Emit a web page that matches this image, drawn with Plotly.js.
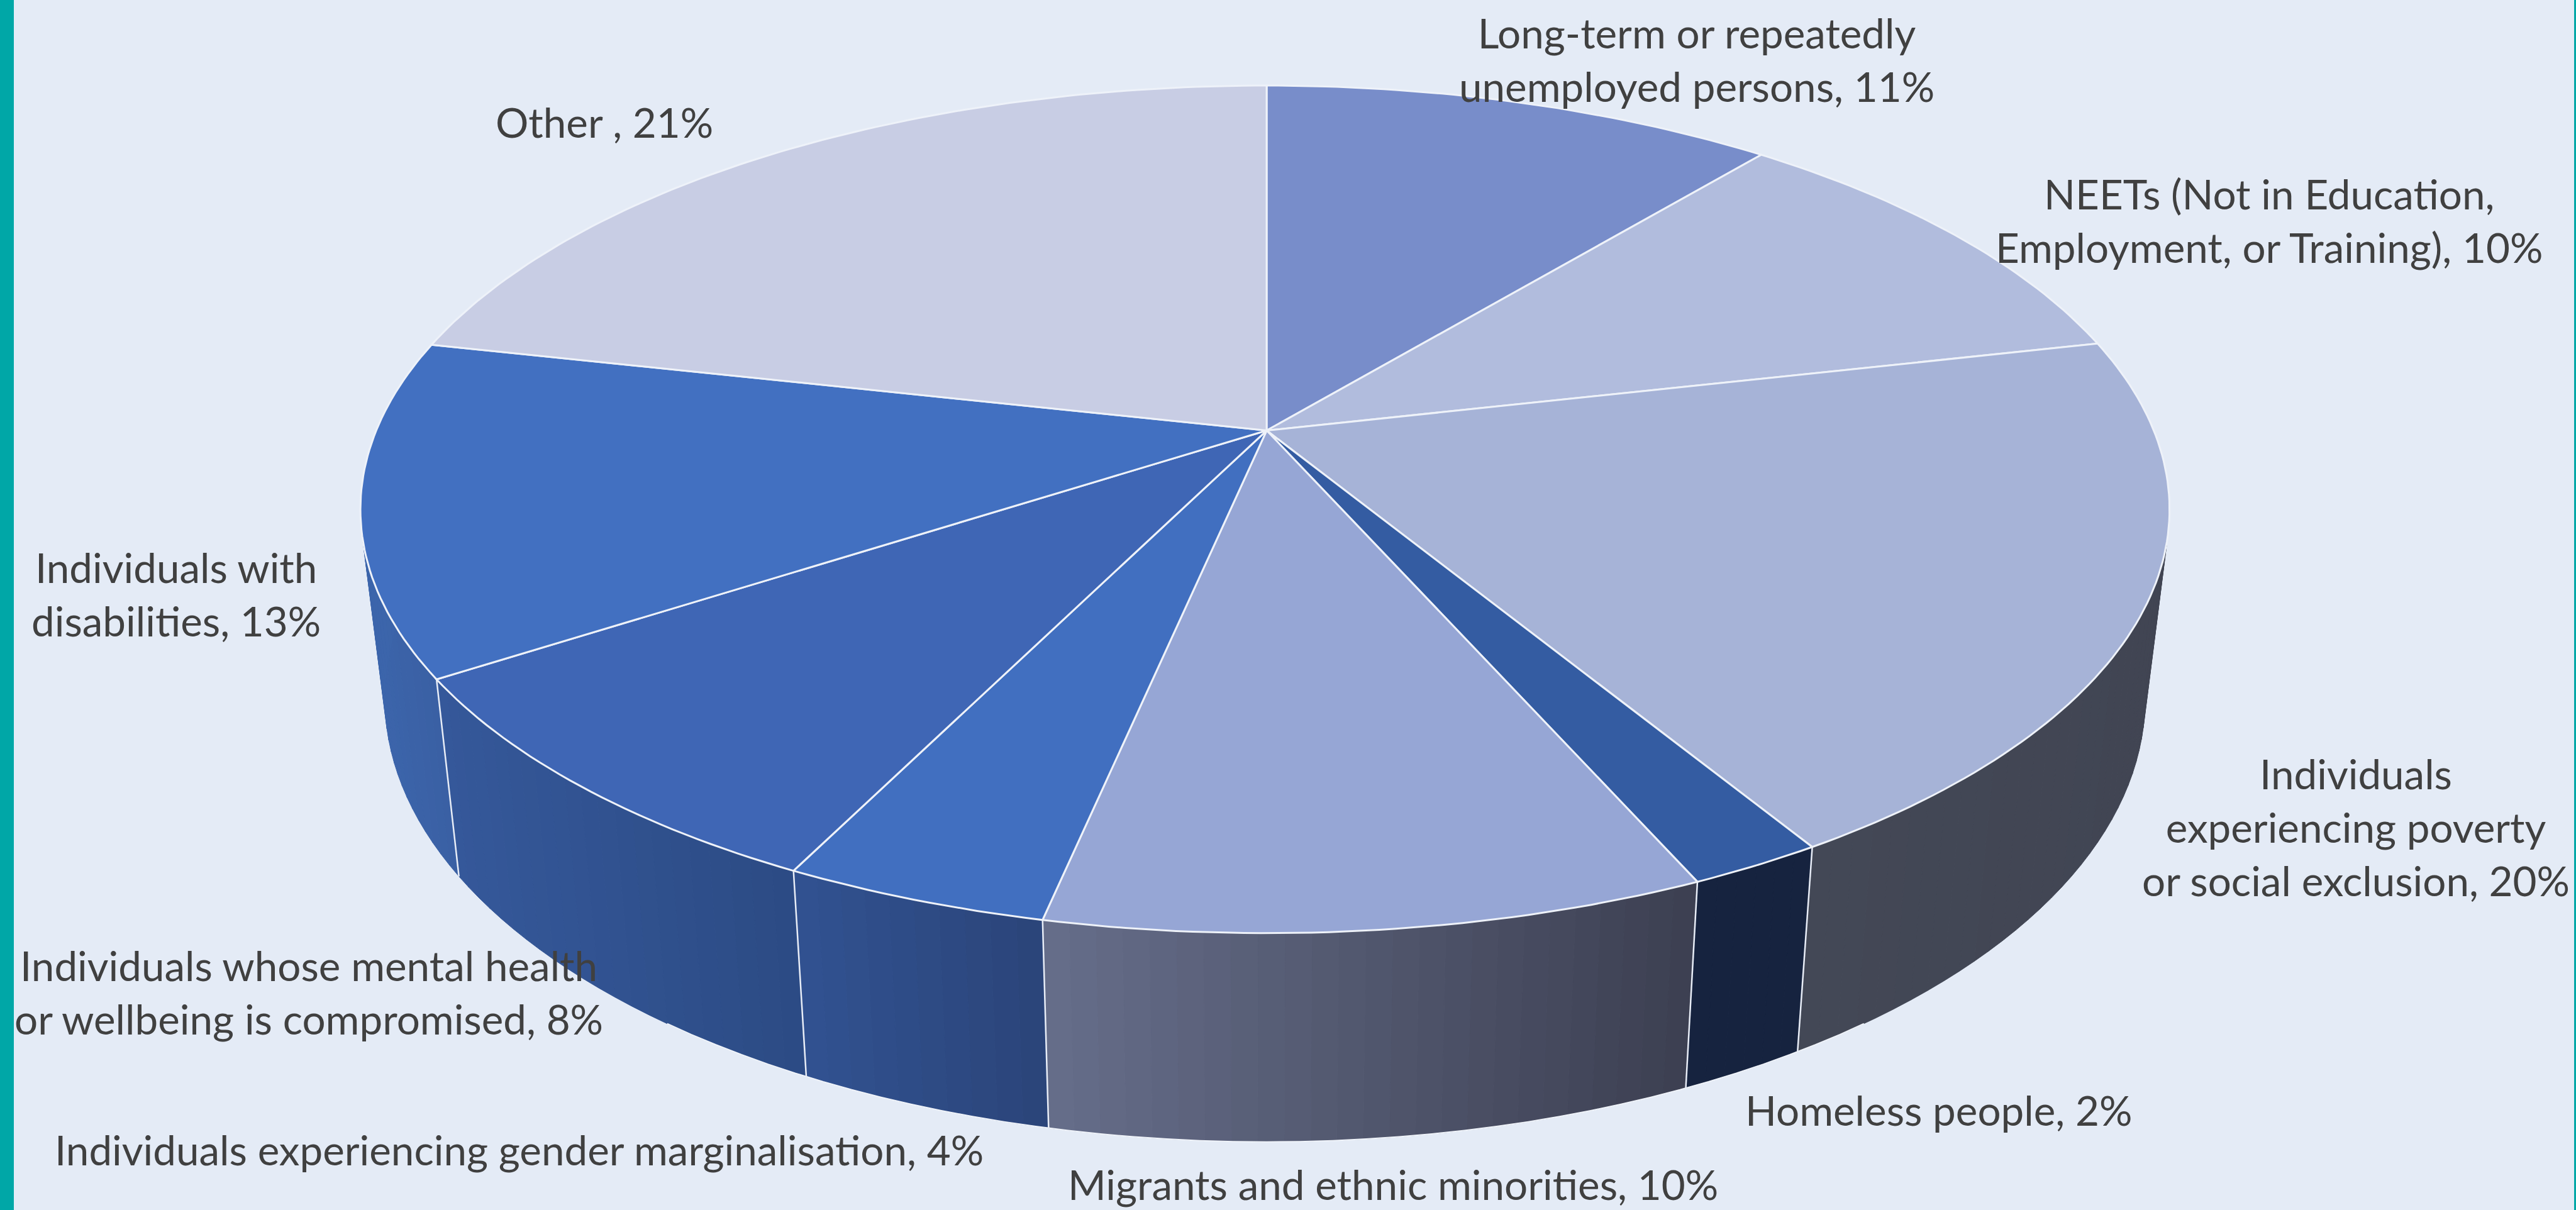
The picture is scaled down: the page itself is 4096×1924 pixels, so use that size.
<!DOCTYPE html>
<html><head><meta charset="utf-8">
<script src="https://cdn.plot.ly/plotly-3.0.1.min.js"></script>
<style>html,body{margin:0;padding:0;background:#e4ebf6;overflow:hidden}#c{width:4096px;height:1924px}</style>
</head><body><div id="c"></div>
<script>
// ---- data, clockwise from 12 o'clock ----
const categories = ["Long-term or repeatedly<br>unemployed persons","NEETs (Not in Education,<br>Employment, or Training)","Individuals<br>experiencing poverty<br>or social exclusion","Homeless people","Migrants and ethnic minorities","Individuals experiencing gender marginalisation","Individuals whose mental health<br>or wellbeing is compromised","Individuals with<br>disabilities","Other "];
const labelPercents = [11,10,20,2,10,4,8,13,21];
const sliceShares = [11.0,10.45,19.9,2.05,9.9,4.0,8.5,12.7,21.5];
// ---- styles ----
const topColors = ["#788dca","#b1bcdd","#a6b3d7","#345ca2","#96a6d5","#416fc0","#3f66b5","#4270c1","#c8cde4"];
const wallLeft  = ["#414654","#414654","#434856","#16233f","#666e8a","#315291","#35589a","#3c65ab","#c8cde4"];
const wallRight = ["#414654","#414654","#414553","#16233f","#3c3f51","#2b4479","#2c4b84","#3a60a4","#c8cde4"];
const labelAnchors = [[1033,36],[1381,134],[1434,503],[1180,675.5],[848,720.5],[316,699.5],[188,603.5],[107,361.5],[368,74]];
const BG="#e4ebf6", TEAL="#00a7a7", TEXT="#404040", FONT="Lato", FS=65.5;
const W=1568, H=736.4;
// ---- projection of the tilted disc ----
const cx=771, cy=262, aR=540, aL=542, b=249, k=0.186;
function rim(pct){const t=pct/100*2*Math.PI,x=Math.sin(t),y=Math.cos(t),w=1+k*y;return [cx+(x<0?aL:aR)*x/w,cy-b*y/w];}
function floorOf(p){return [cx+0.973*(p[0]-cx),p[1]+120+(p[1]-415)*0.046];}
function hex(c){return [1,3,5].map(i=>parseInt(c.substr(i,2),16));}
function mix(c1,c2,f){const A=hex(c1),B=hex(c2);return "rgb("+A.map((v,i)=>Math.round(v+(B[i]-v)*f)).join(",")+")";}
const traces=[];
const STEP=0.4;
let bounds=[0];sliceShares.forEach(v=>bounds.push(bounds[bounds.length-1]+v));
// walls
sliceShares.forEach((v,i)=>{
  const s=bounds[i],n=Math.max(2,Math.ceil(v/STEP));
  const segs=[];
  for(let j=0;j<n;j++){
    const p0=s+v*j/n,p1=s+v*(j+1)/n;
    if(p1<22||p0>78) continue;
    segs.push([rim(p0),rim(p1)]);
  }
  if(!segs.length) return;
  const X=segs.flatMap(q=>[q[0][0],q[1][0]]),lo=Math.min(...X),hi=Math.max(...X);
  segs.forEach(q=>{
    const t0=q[0],t1=q[1],b0=floorOf(t0),b1=floorOf(t1);
    const f=((t0[0]+t1[0])/2-lo)/(hi-lo||1);
    const col=mix(wallLeft[i],wallRight[i],f);
    traces.push({type:"scatter",mode:"lines",x:[t0[0],t1[0],b1[0],b0[0],t0[0]],y:[t0[1],t1[1],b1[1],b0[1],t0[1]],fill:"toself",fillcolor:col,line:{color:col,width:1},hoverinfo:"skip",showlegend:false});
  });
});
// pale lower rim
{
  const xs=[],ys=[];
  for(let p=40;p<=60;p+=0.5){const q=floorOf(rim(p));xs.push(q[0]);ys.push(q[1]);}
  traces.push({type:"scatter",mode:"lines",x:xs,y:ys,line:{color:"#f0f4fa",width:2},hoverinfo:"skip",showlegend:false});
}
// wall dividers
bounds.forEach(p=>{
  if(p<24||p>76) return;
  const t=rim(p),q=floorOf(t);
  traces.push({type:"scatter",mode:"lines",x:[t[0],q[0]],y:[t[1],q[1]],line:{color:"#e8edf7",width:2.5},hoverinfo:"skip",showlegend:false});
});
// top faces
sliceShares.forEach((v,i)=>{
  const xs=[cx],ys=[cy],n=Math.ceil(v/0.25);
  for(let j=0;j<=n;j++){const p=rim(bounds[i]+v*j/n);xs.push(p[0]);ys.push(p[1]);}
  xs.push(cx);ys.push(cy);
  traces.push({type:"scatter",mode:"lines",x:xs,y:ys,fill:"toself",fillcolor:topColors[i],line:{color:"#eef2f9",width:3},name:categories[i].replace(/<br>/g," "),showlegend:false,hoverinfo:"name"});
});
const annotations=categories.map((c,i)=>({x:labelAnchors[i][0],y:labelAnchors[i][1],xref:"x",yref:"y",text:c+", "+labelPercents[i]+"%",showarrow:false,align:"center",xanchor:"center",yanchor:"middle",font:{family:FONT,size:FS,color:TEXT}}));
const layout={width:4096,height:1924,margin:{l:0,r:0,t:0,b:0},paper_bgcolor:BG,plot_bgcolor:BG,showlegend:false,
 xaxis:{range:[0,W],visible:false,fixedrange:true},yaxis:{range:[H,0],visible:false,fixedrange:true},
 annotations,
 shapes:[{type:"rect",xref:"paper",yref:"paper",x0:0,x1:22/4096,y0:0,y1:1,fillcolor:TEAL,line:{width:0},layer:"above"},
         {type:"rect",xref:"paper",yref:"paper",x0:1-3/4096,x1:1,y0:0,y1:1,fillcolor:TEAL,line:{width:0},layer:"above"}]};
Plotly.newPlot("c",traces,layout,{staticPlot:true,displayModeBar:false});
</script></body></html>
